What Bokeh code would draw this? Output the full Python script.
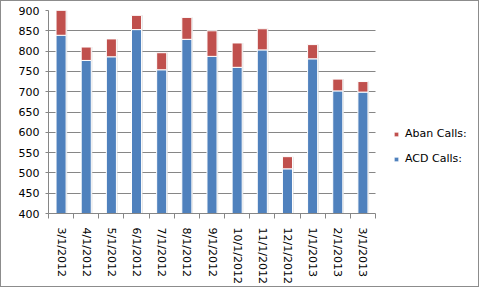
from bokeh.plotting import figure
from bokeh.models import FixedTicker, Range1d, Legend, LegendItem, ColumnDataSource
from bokeh.transform import dodge
from bokeh.embed import file_html
from bokeh.resources import INLINE

dates = ["3/1/2012", "4/1/2012", "5/1/2012", "6/1/2012", "7/1/2012", "8/1/2012",
         "9/1/2012", "10/1/2012", "11/1/2012", "12/1/2012", "1/1/2013", "2/1/2013", "3/1/2013"]
acd_calls = [839, 777, 786, 853, 754, 829, 787, 760, 803, 510, 781, 702, 699]
aban_calls = [61, 33, 44, 35, 42, 54, 63, 60, 52, 30, 35, 29, 26]

BLUE = "#4F81BD"
RED = "#C0504D"
GRID = "#868686"
FONT = "DejaVu Sans"

n = len(dates)
xs = [i + 0.5 for i in range(n)]
tops = [a + b for a, b in zip(acd_calls, aban_calls)]
src = ColumnDataSource(dict(x=xs, acd=acd_calls, top=tops))

# frame spans to the right edge so the legend can sit inside it;
# the category area covers 327 of the 432 frame pixels
x_end = n * 432 / 327
p = figure(width=479, height=287, output_backend="svg", toolbar_location=None,
           x_range=Range1d(0, x_end), y_range=Range1d(400, 900),
           min_border_left=47, min_border_right=0, min_border_top=9, min_border_bottom=75)
p.styles = {"border": "1px solid #8c8c8c"}
p.outline_line_color = None
p.background_fill_color = "white"
p.border_fill_color = "white"

# subtle shadow to the right of each bar
p.vbar(x=dodge("x", 0.035, range=p.x_range), top="top", bottom=0, width=0.42,
       source=src, fill_color="#d4d4d4", line_color=None, fill_alpha=0.8)
r_acd = p.vbar(x="x", top="acd", bottom=0, width=0.4, source=src,
               fill_color=BLUE, line_color="white", line_width=1)
r_aban = p.vbar(x="x", top="top", bottom="acd", width=0.4, source=src,
                fill_color=RED, line_color="white", line_width=1)

# x axis
p.xaxis.ticker = FixedTicker(ticks=xs, minor_ticks=list(range(n + 1)))
p.xaxis.bounds = (0, n)
p.xaxis.major_label_overrides = {x: d for x, d in zip(xs, dates)}
p.xaxis.major_label_orientation = "vertical"
p.xaxis.major_tick_out = 0
p.xaxis.major_tick_in = 0
p.xaxis.minor_tick_out = 5
p.xaxis.minor_tick_in = 0
p.xaxis.minor_tick_line_color = GRID
p.xaxis.axis_line_color = GRID
p.xaxis.major_label_standoff = 9
p.xgrid.grid_line_color = None

# y axis
p.yaxis.ticker = FixedTicker(ticks=list(range(400, 901, 50)))
p.yaxis.major_tick_out = 3
p.yaxis.major_tick_in = 0
p.yaxis.minor_tick_line_color = None
p.yaxis.axis_line_color = GRID
p.yaxis.major_tick_line_color = GRID
p.yaxis.major_label_standoff = 6
p.ygrid.grid_line_color = GRID
p.ygrid.cross_bounds = (0, n)

for ax in (p.xaxis, p.yaxis):
    ax.major_label_text_font = FONT
    ax.major_label_text_font_size = "11px"
    ax.major_label_text_color = "black"

legend = Legend(items=[LegendItem(label="Aban Calls:", renderers=[r_aban]),
                       LegendItem(label="ACD Calls:", renderers=[r_acd])],
                location=(345, 48), orientation="vertical")
legend.label_text_font = FONT
legend.label_text_font_size = "11px"
legend.label_text_color = "black"
legend.glyph_width = 6
legend.glyph_height = 6
legend.spacing = 12
legend.padding = 5
legend.margin = 0
legend.label_standoff = 6
legend.border_line_color = None
legend.background_fill_alpha = 0
p.add_layout(legend, "center")

open("out.html", "w").write(file_html(p, INLINE))
